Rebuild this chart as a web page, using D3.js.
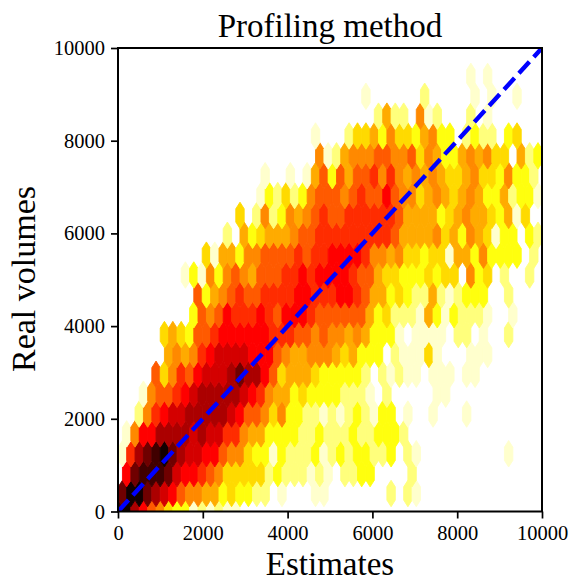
<!DOCTYPE html>
<html><head><meta charset="utf-8">
<script src="https://cdn.jsdelivr.net/npm/d3@7"></script>
<style>html,body{margin:0;padding:0;background:#fff}svg{display:block}text{font-family:"Liberation Serif",serif;fill:#000}</style>
</head><body><div id="c"></div>
<script>
const xTicks=[0,2000,4000,6000,8000,10000];
const yTicks=[0,2000,4000,6000,8000,10000];
const titleText="Profiling method", xLabel="Estimates", yLabel="Real volumes";
const refLine=[[0,0],[10000,10000]];
// density level of each hexagon (0 = empty cell), one array per hex row, bottom row first
const row00=[13,14,11,9,7,6,4,3,3,1,2,1,2,1,1];
const row01=[12,14,14,12,11,10,9,7,6,6,5,5,3,4,3,3,2,2,0,1,0,0,0,1,1,0,0,0,0,0,0,0,2,0,2,1];
const row02=[0,9,12,13,13,13,12,10,9,9,8,7,6,4,4,4,4,4,2,3,2,2,2,1,2,1,0,2,2,3,3,0,0,0,0,2];
const row03=[1,8,11,12,13,14,12,11,10,10,9,9,7,6,6,4,3,3,1,3,2,2,2,3,1,2,3,2,3,3,2,2,3,0,2,1,0,0,0,0,0,0,0,0,0,0,1];
const row04=[0,1,6,9,9,11,11,11,11,10,11,10,10,8,8,6,5,5,3,3,3,3,2,2,3,2,2,2,3,2,2,3,3,3,2];
const row05=[0,0,2,6,8,9,10,10,11,11,11,11,11,10,9,7,7,6,4,6,3,3,2,2,1,2,1,2,3,2,1,3,3,0,1,0,0,1,0,0,0,1];
const row06=[0,0,0,1,6,7,7,8,9,10,11,11,11,11,11,10,9,8,6,5,5,3,4,3,3,3,3,2,2,2,1,0,2,0,0,0,0,0,1,1];
const row07=[0,0,0,0,7,4,6,8,7,9,10,10,10,11,12,11,11,9,7,4,5,5,5,4,3,3,3,3,3,2,0,2,1,2,1,1,0,1,1,1,0,1,1];
const row08=[0,0,0,0,0,0,5,6,5,6,8,9,10,10,10,10,9,9,9,7,6,5,5,6,6,6,5,4,5,3,3,3,0,2,1,1,1,4,1,0,0,0,1,1,1];
const row09=[0,0,0,0,0,4,5,4,3,7,7,8,9,9,9,9,9,9,8,8,8,7,7,6,7,6,6,5,6,5,3,3,3,1,0,1,1,1,1,0,2,2,0,1,0,0,2];
const row10=[0,0,0,0,0,0,0,0,0,3,7,6,7,9,8,8,8,9,8,7,9,9,9,8,7,7,7,7,7,7,5,3,4,2,2,2,1,5,3,1,3,2,2,2,1,0,0,1];
const row11=[0,0,0,0,0,0,0,0,0,7,3,5,6,7,8,7,7,8,8,8,8,9,9,8,8,8,9,9,8,7,5,5,3,4,3,2,2,5,2,1,2,3,3,3,0,0,2];
const row12=[0,0,0,0,0,0,0,0,1,3,1,6,3,6,7,6,5,7,7,7,8,8,9,8,9,9,9,9,8,7,7,5,4,4,3,3,3,4,3,4,4,0,6,3,4,0,2,0,0,2];
const row13=[0,0,0,0,0,0,0,0,0,0,4,1,5,5,3,6,6,7,7,7,7,8,7,8,8,9,9,9,9,8,6,6,5,6,4,4,3,4,4,1,5,5,3,6,3,3,3,3,0,2,0];
const row14=[0,0,0,0,0,0,0,0,0,0,0,0,0,2,0,5,3,4,5,5,5,6,7,7,8,8,8,8,8,8,8,8,8,7,5,5,5,5,6,4,5,3,6,5,4,1,3,3,0,3,2];
const row15=[0,0,0,0,0,0,0,0,0,0,0,0,0,0,4,0,2,6,2,3,6,5,6,7,8,7,7,8,8,8,8,8,8,7,5,5,5,5,3,4,5,6,5,5,4,3,5,1,4,0];
const row16=[0,0,0,0,0,0,0,0,0,0,0,0,0,0,0,0,0,1,3,2,4,2,3,6,7,7,7,6,7,8,7,7,9,7,6,6,4,5,6,5,4,5,6,5,3,3,5,2,3,3,1];
const row17=[0,0,0,0,0,0,0,0,0,0,0,0,0,0,0,0,0,1,0,0,1,0,1,5,7,3,7,5,7,7,8,6,8,6,5,6,5,6,5,4,4,5,6,4,4,3,6,3,3,2];
const row18=[0,0,0,0,0,0,0,0,0,0,0,0,0,0,0,0,0,0,0,0,0,0,0,0,6,1,2,5,6,6,6,7,7,6,6,7,4,6,5,3,3,5,6,5,6,4,4,0,5,2,3];
const row19=[0,0,0,0,0,0,0,0,0,0,0,0,0,0,0,0,0,0,0,0,0,0,0,1,0,0,0,2,4,4,5,3,6,4,4,3,5,6,3,3,0,2,3,2,2,0,3,4];
const row20=[0,0,0,0,0,0,0,0,0,0,0,0,0,0,0,0,0,0,0,0,0,0,0,0,0,0,0,0,0,0,0,2,5,2,2,0,6,1,2,0,0,0,2,0,1];
const row21=[0,0,0,0,0,0,0,0,0,0,0,0,0,0,0,0,0,0,0,0,0,0,0,0,0,0,0,0,0,1,0,0,0,0,0,0,2,0,0,0,0,0,1,0,1,0,0,1];
const row22=[0,0,0,0,0,0,0,0,0,0,0,0,0,0,0,0,0,0,0,0,0,0,0,0,0,0,0,0,0,0,0,0,0,0,0,0,0,0,0,0,0,0,1,0,1];
const hexRows=[row00,row01,row02,row03,row04,row05,row06,row07,row08,row09,row10,row11,row12,row13,row14,row15,row16,row17,row18,row19,row20,row21,row22];
// position on the reversed "hot" colormap for levels 1..14
const levelShade=[.95,.87,.76,.69,.62,.57,.5,.43,.365,.3,.24,.15,.08,.01];

const W=570,H=582,L=118,R=542,T=48,B=511.5;
const x=d3.scaleLinear().domain([0,10000]).range([L,R]);
const y=d3.scaleLinear().domain([0,10000]).range([B,T]);
const hot=d3.scaleLinear().domain([0,.365,.746,1]).range(["#0b0000","#ff0000","#ffff00","#ffffff"]);
const sx=198, sy=857, x0=6, y0=-40; // hexbin lattice in data units
const svg=d3.select("#c").append("svg").attr("width",W).attr("height",H);
svg.append("defs").append("clipPath").attr("id","ax").append("rect")
  .attr("x",L).attr("y",T).attr("width",R-L).attr("height",B-T);
const cells=[];
hexRows.forEach((r,k)=>r.forEach((lv,i)=>{ if(lv>0) cells.push({cx:x0+(i+(k%2?.5:0))*sx, cy:y0+k*sy/2, lv}); }));
const hexPts=[[.5,-1/6],[.5,1/6],[0,1/3],[-.5,1/6],[-.5,-1/6],[0,-1/3]];
const g=svg.append("g").attr("clip-path","url(#ax)");
g.selectAll("path.h").data(cells).join("path").attr("class","h")
  .attr("d",d=>"M"+hexPts.map(p=>x(d.cx+p[0]*sx)+","+y(d.cy+p[1]*sy)).join("L")+"Z")
  .attr("fill",d=>hot(levelShade[d.lv-1])).attr("stroke",d=>hot(levelShade[d.lv-1])).attr("stroke-width",.9);
g.append("path").attr("d",d3.line().x(d=>x(d[0])).y(d=>y(d[1]))(refLine))
  .attr("stroke","#0000ff").attr("stroke-width",4.4).attr("fill","none").attr("stroke-dasharray","15.5,6.5");
const fmt=d3.format("d");
const ax=svg.append("g").attr("transform",`translate(0,${B})`).call(d3.axisBottom(x).tickValues(xTicks).tickFormat(fmt).tickSize(7).tickPadding(7));
const ay=svg.append("g").attr("transform",`translate(${L},0)`).call(d3.axisLeft(y).tickValues(yTicks).tickFormat(fmt).tickSize(7).tickPadding(6));
[ax,ay].forEach(a=>{a.select(".domain").remove();a.selectAll("line").attr("stroke","#000").attr("stroke-width",1.7);a.selectAll("text").attr("font-size",20.5).attr("font-family","Liberation Serif");});
svg.append("rect").attr("x",L).attr("y",T).attr("width",R-L).attr("height",B-T).attr("fill","none").attr("stroke","#000").attr("stroke-width",2);
svg.append("text").attr("x",330).attr("y",36.5).attr("text-anchor","middle").attr("font-size",33).text(titleText);
svg.append("text").attr("x",330).attr("y",574.5).attr("text-anchor","middle").attr("font-size",33).text(xLabel);
svg.append("text").attr("transform","translate(35,279) rotate(-90)").attr("text-anchor","middle").attr("font-size",34).text(yLabel);
</script></body></html>
